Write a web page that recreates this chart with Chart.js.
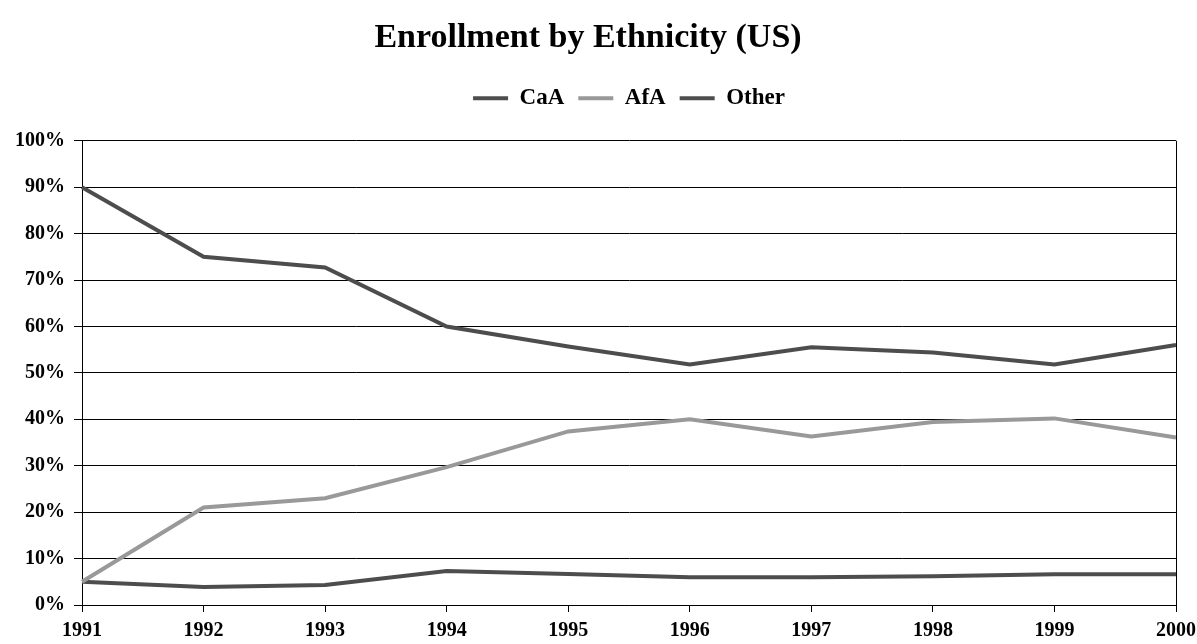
<!DOCTYPE html>
<html>
<head>
<meta charset="utf-8">
<script src="https://cdn.jsdelivr.net/npm/chart.js@4/dist/chart.umd.min.js"></script>
<style>
    html, body { margin: 0; padding: 0; background: #fff; }
    #wrap { width: 1197px; height: 644px; }
</style>
</head>
<body>
<div id="wrap"><canvas id="enroll-chart" width="1197" height="644"></canvas></div>
<script>
const years = ["1991", "1992", "1993", "1994", "1995", "1996", "1997", "1998", "1999", "2000"];
const caa = [90, 75, 72.7, 60, 55.7, 51.8, 55.5, 54.4, 51.8, 56];
const afa = [5, 21, 23, 29.7, 37.4, 40, 36.3, 39.4, 40.2, 36.1];
const other = [5, 3.9, 4.3, 7.3, 6.7, 6, 6, 6.2, 6.6, 6.6];

const dark = "#4d4d4d";
const light = "#999999";
const serif = "'Liberation Serif', 'Times New Roman', serif";

// right edge of the plot area
const plotBorder = {
    id: "plotBorder",
    afterDraw(chart) {
        const a = chart.chartArea;
        const c = chart.ctx;
        c.save();
        c.strokeStyle = "#000";
        c.lineWidth = 1;
        c.beginPath();
        c.moveTo(a.right + 0.5, a.top);
        c.lineTo(a.right + 0.5, a.bottom);
        c.stroke();
        c.restore();
    },
};

function makeSet(label, data, color) {
    return {
        label: label,
        data: data,
        borderColor: color,
        backgroundColor: color,
        borderWidth: 4,
        pointRadius: 0,
        tension: 0,
    };
}

new Chart(document.getElementById("enroll-chart"), {
    type: "line",
    data: {
        labels: years,
        datasets: [
            makeSet("CaA", caa, dark),
            makeSet("AfA", afa, light),
            makeSet("Other", other, dark),
        ],
    },
    options: {
        responsive: false,
        animation: false,
        layout: { padding: { left: 0, right: 21, top: 0, bottom: 0 } },
        plugins: {
            title: {
                display: true,
                text: "Enrollment by Ethnicity (US)",
                color: "#000",
                font: { family: serif, size: 34, weight: "bold" },
                padding: { top: 18, bottom: 14 },
            },
            legend: {
                fullSize: false,
                labels: {
                    color: "#000",
                    font: { family: serif, size: 23, weight: "bold" },
                    boxWidth: 35,
                    boxHeight: 4,
                    padding: 14,
                    generateLabels(chart) {
                        const items = Chart.defaults.plugins.legend.labels.generateLabels(chart);
                        items.forEach((it) => { it.lineWidth = 0; });
                        return items;
                    },
                },
            },
            tooltip: { enabled: false },
        },
        scales: {
            x: {
                offset: false,
                grid: { drawOnChartArea: false, drawTicks: true, tickLength: 7, color: "#000" },
                border: { color: "#000", width: 1 },
                ticks: {
                    color: "#000",
                    padding: 7,
                    maxRotation: 0,
                    font: { family: serif, size: 20, weight: "bold" },
                },
                afterFit(scale) {
                    scale.height = 39;
                    scale.paddingLeft = 0;
                    scale.paddingRight = 0;
                },
            },
            // empty band between legend and plot
            gap: {
                axis: "x",
                type: "category",
                position: "top",
                grid: { display: false },
                border: { display: false },
                ticks: { display: false },
                afterFit(scale) { scale.height = 21; },
            },
            y: {
                min: 0,
                max: 100,
                grid: { color: "#000", tickLength: 8 },
                border: { color: "#000", width: 1 },
                ticks: {
                    stepSize: 10,
                    color: "#000",
                    padding: 9,
                    font: { family: serif, size: 20, weight: "bold" },
                    callback: (v) => v + "%",
                },
                afterFit(scale) { scale.width = 82; },
            },
        },
    },
    plugins: [plotBorder],
});
</script>
</body>
</html>
